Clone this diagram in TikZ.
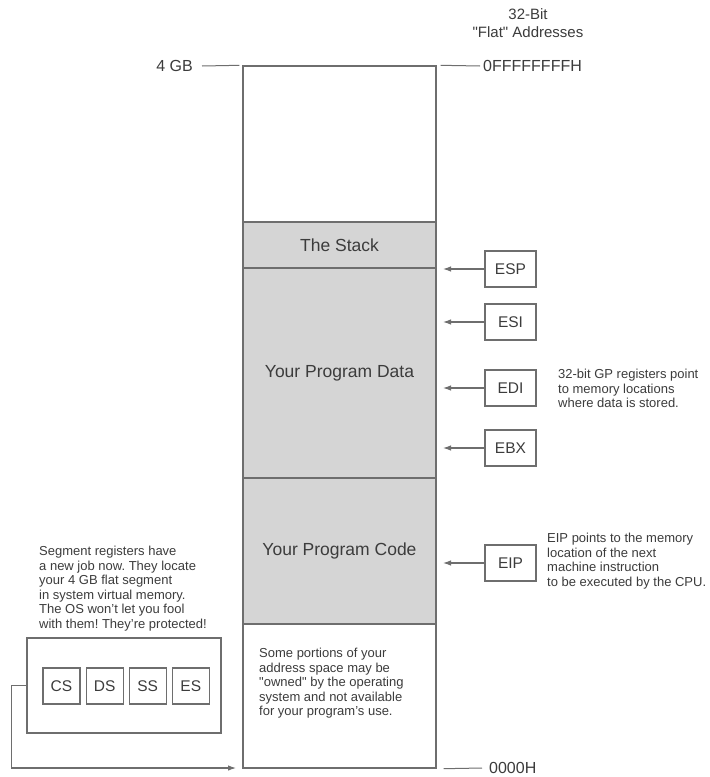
\documentclass[tikz,border=0pt]{standalone}
\usepackage{fontspec}
\setmainfont{Liberation Sans}
\newfontfamily\plainfont{Liberation Sans}
\usetikzlibrary{positioning,arrows.meta}
\definecolor{ink}{HTML}{3C3C3C}
\definecolor{edge}{HTML}{6E6E6E}
\definecolor{shade}{HTML}{D5D5D5}
\newcommand{\dq}{{\plainfont\symbol{34}}}
\frenchspacing
\begin{document}
\begin{tikzpicture}[x=1pt,y=-1pt,
	every node/.style={text=ink},
	region/.style={draw=edge,line width=1.4pt,minimum width=193pt,inner sep=0pt,font=\fontsize{17.5}{20}\selectfont},
	reg/.style={draw=edge,line width=1.1pt,minimum width=51pt,minimum height=36pt,inner sep=0pt,font=\fontsize{15.5}{18}\selectfont},
	segreg/.style={reg,minimum width=37pt},
	note/.style={align=left,inner sep=0pt,anchor=north west,font=\fontsize{13}{14.5}\selectfont},
	addr/.style={inner sep=0pt,font=\fontsize{16}{18}\selectfont},
	tick/.style={draw=edge,line width=1pt},
	ptr/.style={draw=edge,line width=1.1pt,-{Latex[length=8pt,width=5.5pt]}}]
	\fill[white] (0,0) rectangle (710,777);
	\useasboundingbox (0,0) rectangle (710,777);
	\node[region,minimum height=156pt] (free) at (339.5,144) {};
	\node[region,minimum height=46pt,fill=shade] (stack) at (339.5,245) {The Stack};
	\node[region,minimum height=210pt,fill=shade] (data) at (339.5,373) {Your Program Data};
	\node[region,minimum height=146pt,fill=shade] (code) at (339.5,551) {Your Program Code};
	\node[region,minimum height=144pt] (os) at (339.5,696) {};
	\node[note] (osnote) at (259,648) {Some portions of your\\address space may be\\\dq owned\dq{} by the operating\\system and not available\\for your program's use.};
	\node[align=center,inner sep=0pt,anchor=north,font=\fontsize{15}{18}\selectfont] (hdr) at (528,8) {32-Bit\\\dq Flat\dq{} Addresses};
	\node[addr,anchor=east] (gb) at (193,66) {4 GB};
	\node[addr,anchor=west] (ffff) at (483,66) {0FFFFFFFFH};
	\node[addr,anchor=west] (zero) at (489,768) {0000H};
	\draw[tick] ([xshift=9pt]gb.east) -- ([xshift=-3pt]free.north west);
	\draw[tick] ([xshift=4pt]free.north east) -- ([xshift=-3pt]ffff.west);
	\draw[tick] ([xshift=7pt]os.south east) -- ([xshift=-7pt]zero.west);
	\coordinate (tgt) at (443,0);
	\node[reg] (esp) at (510.5,269) {ESP};
	\node[reg] (esi) at (510.5,322) {ESI};
	\node[reg] (edi) at (510.5,388) {EDI};
	\node[reg] (ebx) at (510.5,448) {EBX};
	\node[reg] (eip) at (510.5,563) {EIP};
	\draw[ptr] (esp.west) -- (esp.west -| tgt);
	\draw[ptr] (esi.west) -- (esi.west -| tgt);
	\draw[ptr] (edi.west) -- (edi.west -| tgt);
	\draw[ptr] (ebx.west) -- (ebx.west -| tgt);
	\draw[ptr] (eip.west) -- (eip.west -| tgt);
	\node[note] (gpnote) at (558,369) {32-bit GP registers point\\to memory locations\\where data is stored.};
	\node[note] (eipnote) at (547,533) {EIP points to the memory\\location of the next\\machine instruction\\to be executed by the CPU.};
	\node[note] (segnote) at (39,546) {Segment registers have\\a new job now. They locate\\your 4 GB flat segment\\in system virtual memory.\\The OS won't let you fool\\with them! They're protected!};
	\node[draw=edge,line width=1.2pt,minimum width=194pt,minimum height=95pt] (seg) at (124,685.5) {};
	\node[segreg] (cs) at (61.5,686) {CS};
	\node[segreg,right=5pt of cs] (ds) {DS};
	\node[segreg,right=5pt of ds] (ss) {SS};
	\node[segreg,right=5pt of ss] (es) {ES};
	\coordinate (segT) at (236,768);
	\draw[ptr] (seg.west) -- ++(-15,0) |- (segT);
\end{tikzpicture}
\end{document}
